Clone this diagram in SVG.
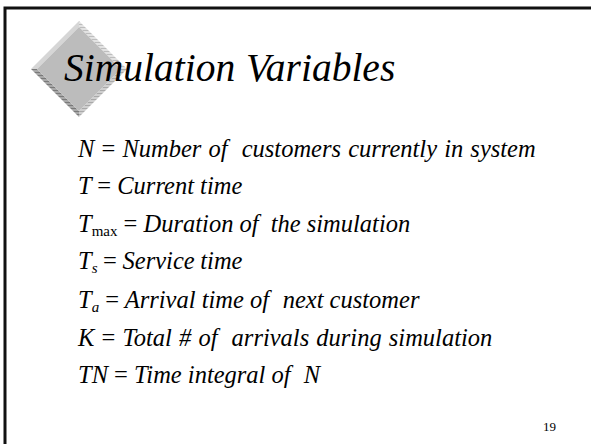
<svg xmlns="http://www.w3.org/2000/svg" width="591" height="444" viewBox="0 0 591 444">
<defs>
<style>
.t{font-family:"Liberation Serif","Times New Roman",serif;font-style:italic;fill:#000}
.u{font-style:normal}
.body{font-size:24.5px}
</style>
<pattern id="stL" width="4" height="3" patternUnits="userSpaceOnUse"><rect width="4" height="3" fill="#e2e2e2"/><rect width="4" height="1" fill="#bdbdbd"/></pattern>
<pattern id="stD" width="4" height="3" patternUnits="userSpaceOnUse"><rect width="4" height="3" fill="#a8a8a8"/><rect width="4" height="1" fill="#7a7a7a"/></pattern>
<pattern id="stM" width="4" height="3" patternUnits="userSpaceOnUse"><rect width="4" height="3" fill="#cfcfcf"/><rect width="4" height="1" fill="#a9a9a9"/></pattern>
</defs>
<rect width="591" height="444" fill="#fff"/>
<g id="frame">
<path d="M5,444 V8 H591" fill="none" stroke="#111" stroke-width="3"/>
</g>
<g id="bullet">
<polygon points="79,21 127,69 121,69 79,27" fill="url(#stL)"/>
<polygon points="79,21 79,27 37,69 31,69" fill="#d6d6d6"/>
<polygon points="31,69 37,69 79,111 79,117" fill="url(#stD)"/>
<polygon points="127,69 79,117 79,111 121,69" fill="url(#stM)"/>
<polygon points="79,27 121,69 79,111 37,69" fill="#bcbcbc"/>
</g>
<g id="title">
<text class="t" x="64" y="81" font-size="39.5" word-spacing="1">Simulation Variables</text>
</g>
<g id="lines" class="t body">
<text x="78" y="157" word-spacing="1">N <tspan class="u">=</tspan> Number of <tspan dx="7">customers</tspan> currently in system</text>
<text x="78" y="194">T <tspan class="u">=</tspan> Current time</text>
<text x="78" y="232">T<tspan class="u" font-size="15" dy="4">max</tspan><tspan dy="-4"> </tspan><tspan class="u">=</tspan> Duration of <tspan dx="6">the</tspan> simulation</text>
<text x="78" y="269" word-spacing="-0.5">T<tspan font-size="15" dy="4">s</tspan><tspan dy="-4"> </tspan><tspan class="u">=</tspan> Service time</text>
<text x="78" y="308">T<tspan font-size="15" dy="4">a</tspan><tspan dy="-4"> </tspan><tspan class="u">=</tspan> Arrival time of <tspan dx="7.5">next</tspan> customer</text>
<text x="78" y="346" word-spacing="1">K <tspan class="u">=</tspan> Total # of <tspan dx="7">arrivals</tspan> during simulation</text>
<text x="78" y="383">TN <tspan class="u">=</tspan> Time integral of <tspan dx="7">N</tspan></text>
</g>
<g id="page">
<text x="543" y="431" font-family="Liberation Serif, serif" font-size="13">19</text>
</g>
</svg>
